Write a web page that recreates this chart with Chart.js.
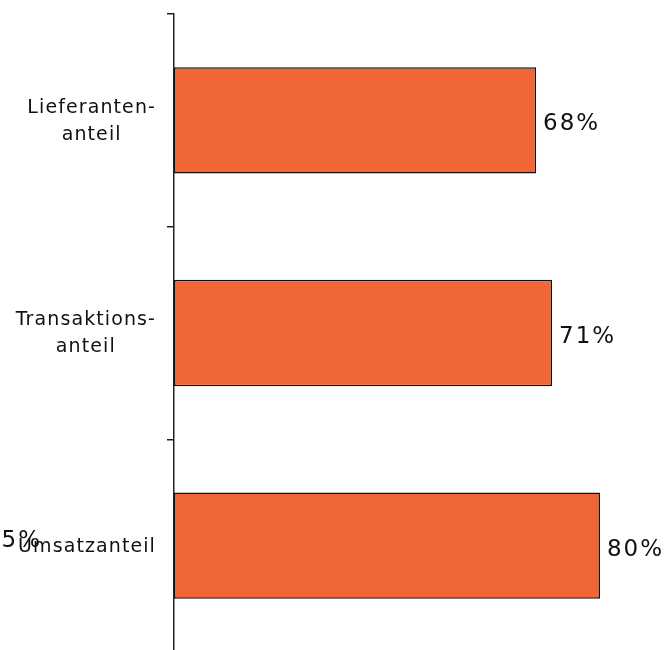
<!DOCTYPE html>
<html>
<head>
<meta charset="utf-8">
<script src="https://cdn.jsdelivr.net/npm/chart.js@4"></script>
<style>
  html, body { margin: 0; padding: 0; background: #fff; overflow: hidden; }
  #wrap { position: relative; width: 666px; height: 652px; }
</style>
</head>
<body>
<div id="wrap"><canvas id="chart"></canvas></div>
<script>
// ── Data ──────────────────────────────────────────────────────────────────────

const categories = [["Lieferanten-", "anteil"], ["Transaktions-", "anteil"], ["Umsatzanteil"]];
const shares = [68, 71, 80];
const strayLabels = [null, null, "5%"]; // label left over at the far left in the original

const BAR_COLOR = "#F16637";
const X_MAX = 92.4;

// ── Labels plugin: category text (right-aligned block, centred lines) + values ─

const labelPlugin = {
  id: "labels",
  afterDraw(chart) {
    const ctx = chart.ctx;
    const yScale = chart.scales.y;
    const meta = chart.getDatasetMeta(0);
    ctx.save();
    ctx.fillStyle = "#111";
    ctx.textBaseline = "middle";

    // category labels
    ctx.font = "19px 'DejaVu Sans'";
    ctx.letterSpacing = "1.1px";
    const lineH = 27;
    const right = chart.chartArea.left - 18;
    categories.forEach((lines, i) => {
      const cy = yScale.getPixelForValue(i) + 1;
      const w = Math.max(...lines.map(l => ctx.measureText(l).width));
      const cx = right - w / 2;
      const top = cy - (lines.length - 1) * lineH / 2;
      ctx.textAlign = "center";
      lines.forEach((l, k) => ctx.fillText(l, cx, top + k * lineH));
    });

    // value labels
    ctx.font = "23px 'DejaVu Sans'";
    ctx.letterSpacing = "2px";
    ctx.textAlign = "left";
    meta.data.forEach((bar, i) => {
      ctx.fillText(`${shares[i]}%`, bar.x + 7, bar.y + 4);
    });

    ctx.textAlign = "right";
    strayLabels.forEach((t, i) => {
      if (!t) return;
      ctx.fillText(t, 42, yScale.getPixelForValue(i) - 5);
    });
    ctx.restore();
  },
};

// ── Chart ─────────────────────────────────────────────────────────────────────

new Chart(document.getElementById("chart"), {
  type: "bar",
  data: {
    labels: categories.map(c => c.join(" ")),
    datasets: [{
      data: shares,
      backgroundColor: BAR_COLOR,
      borderColor: "#111",
      borderWidth: 1.5,
      borderSkipped: false,
      categoryPercentage: 1,
      barPercentage: 0.5,
    }],
  },
  options: {
    indexAxis: "y",
    responsive: true,
    maintainAspectRatio: false,
    animation: false,
    layout: { padding: { top: 14, right: 0, bottom: 0, left: 0 } },
    plugins: { legend: { display: false }, tooltip: { enabled: false } },
    scales: {
      x: { display: false, min: 0, max: X_MAX },
      y: {
        afterFit: s => { s.width = 174; },
        ticks: { display: false },
        grid: {
          offset: true,
          drawOnChartArea: false,
          drawTicks: true,
          tickLength: 7,
          color: "#222",
          lineWidth: 1.5,
        },
        border: { display: true, color: "#222", width: 1.5 },
      },
    },
  },
  plugins: [labelPlugin],
});
</script>
</body>
</html>
